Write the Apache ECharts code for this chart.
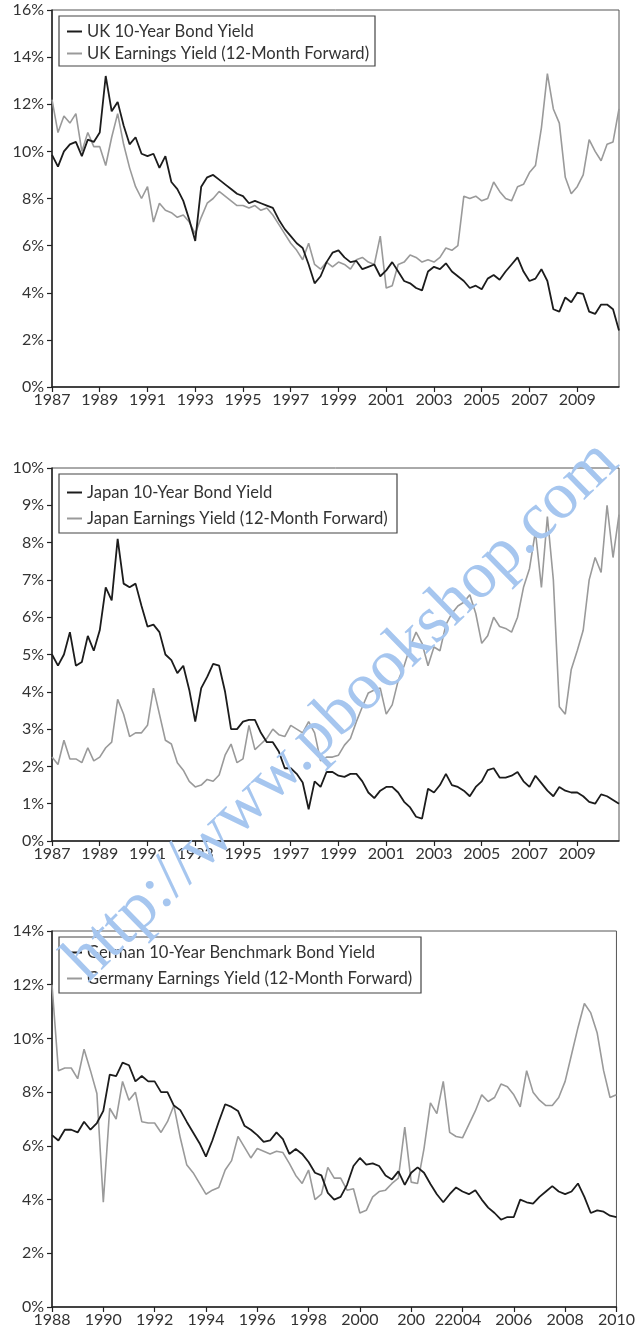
<!DOCTYPE html>
<html>
<head>
<meta charset="utf-8">
<script src="https://cdn.jsdelivr.net/npm/echarts@6/dist/echarts.min.js"></script>
<style>
  html, body { margin: 0; padding: 0; background: #fff; }
  #main { width: 638px; height: 1340px; }
</style>
</head>
<body>
<div id="main"></div>
<script>
// quarterly readings, first value at the start year
var STEP = 0.25;
var ukStart = 1987;
var jpStart = 1987;
var deStart = 1988;

var ukNames = ['UK 10-Year Bond Yield', 'UK Earnings Yield (12-Month Forward)'];
var jpNames = ['Japan 10-Year Bond Yield', 'Japan Earnings Yield (12-Month Forward)'];
var deNames = ['German 10-Year Benchmark Bond Yield', 'Germany Earnings Yield (12-Month Forward)'];

var ukBond = [
  9.85, 9.35, 10.0, 10.3,   10.4, 9.8, 10.5, 10.4,   10.8, 13.2, 11.7, 12.1,
  11.1, 10.3, 10.6, 9.9,    9.8, 9.9, 9.3, 9.8,      8.7, 8.4, 7.9, 7.1,
  6.2, 8.5, 8.9, 9.0,       8.8, 8.6, 8.4, 8.2,      8.1, 7.8, 7.9, 7.8,
  7.7, 7.6, 7.1, 6.7,       6.4, 6.1, 5.9, 5.2,      4.4, 4.7, 5.3, 5.7,
  5.8, 5.5, 5.3, 5.35,      5.0, 5.1, 5.2, 4.7,      4.95, 5.3, 4.9, 4.5,
  4.4, 4.2, 4.1, 4.9,       5.1, 5.0, 5.25, 4.9,     4.7, 4.5, 4.2, 4.3,
  4.15, 4.6, 4.75, 4.55,    4.9, 5.2, 5.5, 4.9,      4.5, 4.6, 5.0, 4.5,
  3.3, 3.2, 3.8, 3.6,       4.0, 3.95, 3.2, 3.1,     3.5, 3.5, 3.3, 2.4
];
var ukEarn = [
  12.2, 10.8, 11.5, 11.2,   11.6, 10.0, 10.8, 10.2,  10.2, 9.4, 10.6, 11.6,
  10.3, 9.3, 8.5, 8.0,      8.5, 7.0, 7.8, 7.5,      7.4, 7.2, 7.3, 7.0,
  6.5, 7.2, 7.8, 8.0,       8.3, 8.1, 7.9, 7.7,      7.7, 7.6, 7.7, 7.5,
  7.6, 7.3, 6.9, 6.5,       6.1, 5.8, 5.4, 6.1,      5.2, 5.0, 5.3, 5.1,
  5.3, 5.2, 5.0, 5.4,       5.5, 5.3, 5.2, 6.4,      4.2, 4.3, 5.2, 5.3,
  5.6, 5.5, 5.3, 5.4,       5.3, 5.5, 5.9, 5.8,      6.0, 8.1, 8.0, 8.1,
  7.9, 8.0, 8.7, 8.3,       8.0, 7.9, 8.5, 8.6,      9.1, 9.4, 11.0, 13.3,
  11.8, 11.2, 8.9, 8.2,     8.5, 9.0, 10.5, 10.0,    9.6, 10.3, 10.4, 11.8
];

var jpBond = [
  5.0, 4.7, 5.0, 5.6,       4.7, 4.8, 5.5, 5.1,      5.65, 6.8, 6.45, 8.1,
  6.9, 6.8, 6.9, 6.3,       5.75, 5.8, 5.6, 5.0,     4.85, 4.5, 4.7, 4.05,
  3.2, 4.1, 4.4, 4.75,      4.7, 4.0, 3.0, 3.0,      3.2, 3.25, 3.25, 2.9,
  2.65, 2.65, 2.4, 1.95,    1.95, 1.8, 1.57, 0.85,   1.6, 1.45, 1.85, 1.85,
  1.75, 1.72, 1.8, 1.8,     1.6, 1.3, 1.15, 1.35,    1.45, 1.45, 1.3, 1.05,
  0.9, 0.65, 0.6, 1.4,      1.3, 1.5, 1.8, 1.5,      1.45, 1.35, 1.2, 1.45,
  1.6, 1.9, 1.95, 1.7,      1.7, 1.75, 1.85, 1.6,    1.45, 1.75, 1.55, 1.35,
  1.2, 1.45, 1.35, 1.3,     1.3, 1.2, 1.05, 1.0,     1.25, 1.2, 1.1, 1.0
];
var jpEarn = [
  2.25, 2.05, 2.7, 2.2,     2.2, 2.1, 2.5, 2.15,     2.25, 2.5, 2.65, 3.8,
  3.4, 2.8, 2.9, 2.9,       3.1, 4.1, 3.4, 2.7,      2.6, 2.1, 1.9, 1.6,
  1.45, 1.5, 1.65, 1.6,     1.77, 2.3, 2.6, 2.1,     2.2, 3.1, 2.45, 2.6,
  2.75, 3.0, 2.85, 2.8,     3.1, 3.0, 2.9, 3.2,      2.9, 2.15, 2.25, 2.25,
  2.3, 2.57, 2.75, 3.2,     3.6, 3.97, 4.05, 4.1,    3.4, 3.65, 4.3, 4.7,
  5.2, 5.6, 5.3, 4.7,       5.2, 5.1, 5.8, 6.1,      6.3, 6.4, 6.6, 6.1,
  5.3, 5.5, 6.0, 5.75,      5.7, 5.6, 6.0, 6.8,      7.3, 8.3, 6.8, 8.7,
  7.0, 3.6, 3.4, 4.6,       5.1, 5.65, 7.0, 7.6,     7.2, 9.0, 7.6, 8.75
];

var deBond = [
  6.4, 6.2, 6.6, 6.6,       6.5, 6.9, 6.6, 6.85,     7.3, 8.65, 8.6, 9.1,
  9.0, 8.4, 8.6, 8.4,       8.4, 8.0, 8.0, 7.5,      7.33, 6.9, 6.5, 6.1,
  5.6, 6.2, 6.9, 7.55,      7.45, 7.3, 6.75, 6.6,    6.4, 6.15, 6.2, 6.5,
  6.25, 5.7, 5.88, 5.7,     5.4, 5.0, 4.9, 4.25,     4.0, 4.1, 4.55, 5.25,
  5.55, 5.3, 5.35, 5.25,    4.9, 4.75, 5.05, 4.55,   5.0, 5.2, 5.0, 4.58,
  4.2, 3.9, 4.2, 4.45,      4.3, 4.2, 4.35, 4.0,     3.7, 3.5, 3.25, 3.35,
  3.35, 4.0, 3.9, 3.85,     4.1, 4.3, 4.5, 4.3,      4.2, 4.3, 4.6, 4.1,
  3.5, 3.6, 3.55, 3.4,      3.35
];
var deEarn = [
  12.0, 8.8, 8.9, 8.9,      8.5, 9.6, 8.8, 7.95,     3.9, 7.4, 7.0, 8.4,
  7.7, 8.0, 6.9, 6.85,      6.85, 6.5, 6.9, 7.5,     6.3, 5.3, 5.0, 4.6,
  4.2, 4.35, 4.45, 5.1,     5.45, 6.35, 5.95, 5.55,  5.9, 5.8, 5.7, 5.8,
  5.75, 5.35, 4.9, 4.6,     5.1, 4.0, 4.2, 5.2,      4.8, 4.8, 4.35, 4.4,
  3.5, 3.6, 4.1, 4.3,       4.35, 4.6, 4.8, 6.7,     4.65, 4.6, 5.9, 7.6,
  7.2, 8.4, 6.5, 6.35,      6.3, 6.8, 7.3, 7.9,      7.65, 7.8, 8.3, 8.2,
  7.9, 7.45, 8.8, 8.0,      7.7, 7.5, 7.5, 7.8,      8.4, 9.4, 10.4, 11.3,
  10.95, 10.2, 8.8, 7.8,    7.9
];

var BLACK = '#1c1c1c';
var GREY = '#9a9a9a';
var FONT = 'Lato';

var chart = echarts.init(document.getElementById('main'));

function toPoints(values) {
  return values.map(function (v, i) {
    return [i * STEP, v];
  });
}

function makeX(idx, startYear, max, labelFn) {
  return {
    gridIndex: idx,
    type: 'value',
    min: 0,
    max: max,
    interval: 2,
    axisLine: { lineStyle: { color: '#222', width: 1.5 } },
    axisTick: { length: 5, lineStyle: { color: '#222', width: 1.2 } },
    axisLabel: {
      color: '#333',
      fontFamily: FONT,
      fontSize: 16,
      margin: 5,
      showMaxLabel: max % 2 === 0,
      formatter: labelFn || function (v) {
        return v % 1 === 0 ? String(startYear + v) : '';
      }
    },
    splitLine: { show: false }
  };
}

function makeY(idx, max, interval) {
  return {
    gridIndex: idx,
    type: 'value',
    min: 0,
    max: max,
    interval: interval,
    axisLine: { show: true, lineStyle: { color: '#222', width: 1.5 } },
    axisTick: { show: true, length: 5, lineStyle: { color: '#222', width: 1.2 } },
    axisLabel: { color: '#333', fontFamily: FONT, fontSize: 16, margin: 8, formatter: '{value}%' },
    splitLine: { show: false }
  };
}

function makeLine(name, idx, values, color, width, z) {
  return {
    name: name,
    type: 'line',
    xAxisIndex: idx,
    yAxisIndex: idx,
    data: toPoints(values),
    showSymbol: false,
    symbol: 'none',
    z: z,
    lineStyle: { color: color, width: width },
    itemStyle: { color: color }
  };
}

function makeLegend(names, top, gap) {
  return {
    data: names,
    orient: 'vertical',
    left: 67,
    top: top,
    padding: 0,
    itemGap: gap,
    icon: 'rect',
    itemWidth: 15,
    itemHeight: 2,
    z: 20,
    selectedMode: false,
    textStyle: { color: '#333', fontFamily: FONT, fontSize: 16.6 }
  };
}

function legendBox(x, y, w, h) {
  return {
    type: 'rect',
    z: 15,
    shape: { x: x, y: y, width: w, height: h },
    style: { fill: '#fff', stroke: '#444', lineWidth: 1.2 }
  };
}

// the 2002 label in the original is broken into "200" and "22004"
function deLabel(v) {
  if (v % 1 !== 0) return '';
  var year = deStart + v;
  if (year === 2002) return '200';
  if (year === 2004) return '{p|22004}';
  return String(year);
}

var deX = makeX(2, deStart, 22, deLabel);
deX.axisLabel.rich = { p: { color: '#333', fontFamily: FONT, fontSize: 16, padding: [0, 9, 0, 0] } };

var option = {
  animation: false,
  backgroundColor: '#fff',
  grid: [
    { left: 52, top: 10, width: 567, height: 377, show: true, borderColor: '#555', borderWidth: 1 },
    { left: 52, top: 468, width: 567, height: 373, show: true, borderColor: '#555', borderWidth: 1 },
    { left: 52, top: 931, width: 566, height: 376, show: true, borderColor: '#555', borderWidth: 1 }
  ],
  xAxis: [
    makeX(0, ukStart, (ukBond.length - 1) * STEP),
    makeX(1, jpStart, (jpBond.length - 1) * STEP),
    deX
  ],
  yAxis: [makeY(0, 16, 2), makeY(1, 10, 1), makeY(2, 14, 2)],
  legend: [
    makeLegend(ukNames, 23, 5),
    makeLegend(jpNames, 484, 9),
    makeLegend(deNames, 944, 9)
  ],
  series: [
    makeLine(ukNames[1], 0, ukEarn, GREY, 1.6, 2),
    makeLine(ukNames[0], 0, ukBond, BLACK, 1.8, 3),
    makeLine(jpNames[1], 1, jpEarn, GREY, 1.6, 2),
    makeLine(jpNames[0], 1, jpBond, BLACK, 1.8, 3),
    makeLine(deNames[1], 2, deEarn, GREY, 1.6, 2),
    makeLine(deNames[0], 2, deBond, BLACK, 1.8, 3)
  ],
  graphic: [
    legendBox(59, 16, 316, 50),
    legendBox(59, 474, 338, 59),
    legendBox(59, 937, 362, 56),
    {
      type: 'text',
      z: 100,
      x: 52,
      y: 947,
      rotation: 0.772,
      style: {
        text: 'http://www.pbookshop.com',
        fontFamily: 'Liberation Serif',
        fontSize: 67,
        fill: '#a6c6ef',
        align: 'left',
        verticalAlign: 'alphabetic'
      }
    }
  ]
};

chart.setOption(option);
</script>
</body>
</html>
